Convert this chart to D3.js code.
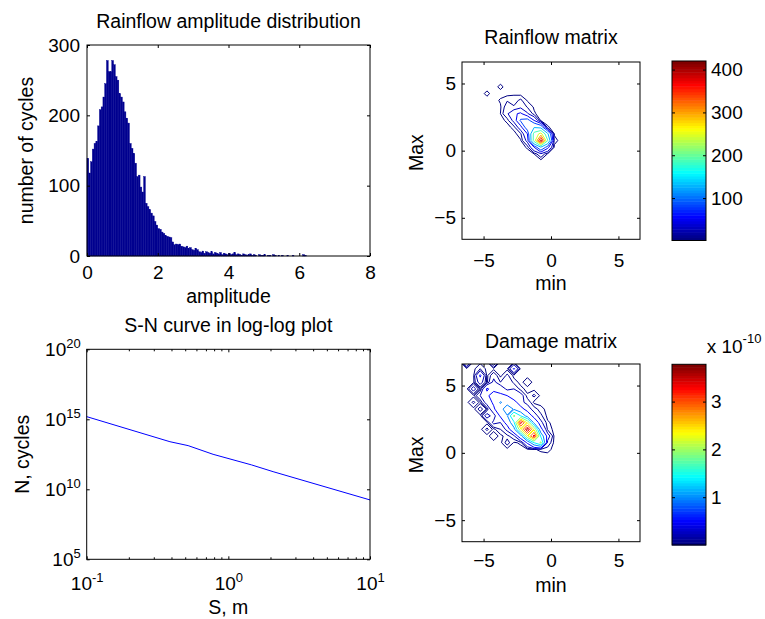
<!DOCTYPE html>
<html>
<head>
<meta charset="utf-8">
<title>Rainflow analysis</title>
<script src="https://cdn.jsdelivr.net/npm/d3@7/dist/d3.min.js"></script>
<style>
  body { margin: 0; background: #fff; }
  text { font-family: "Liberation Sans", Arial, Helvetica, sans-serif; fill: #000; }
</style>
</head>
<body>
<div id="fig"></div>
<script>
// four panels: amplitude histogram, rainflow matrix, S-N curve, damage matrix

var ampBinWidth = 0.05;
var ampCounts = [
  139, 118, 134, 152, 160, 163, 185, 208, 212, 226,
  245, 278, 262, 262, 278, 272, 255, 250, 231, 226,
  219, 205, 196, 189, 160, 153, 146, 132, 113, 115,
  98, 91, 113, 75, 70, 66, 61, 57, 49, 44,
  39, 38, 34, 32, 29, 28, 27, 26, 20, 16,
  17, 16, 17, 14, 13, 12, 14, 11, 12, 9,
  8, 11, 9, 6, 5, 7, 4, 6, 5, 4,
  6, 3, 5, 4, 3, 5, 2, 4, 3, 2,
  4, 2, 3, 5, 2, 3, 2, 1, 3, 2,
  1, 2, 3, 1, 2, 1, 0, 2, 1, 1,
  2, 0, 1, 1, 0, 2, 1, 0, 1, 0,
  1, 0, 0, 1, 0, 0, 1, 0, 0, 0,
  0, 0, 2, 1
];
var ampTicksX = [0, 2, 4, 6, 8];
var ampTicksY = [0, 100, 200, 300];

var snStress = [0.1, 0.387, 0.52, 0.78, 1.46, 2.07, 10];
var snCycles = [1.55e15, 2.51e13, 1.32e13, 3.16e12, 5.5e11, 1.82e11, 1.74e9];
var snTicksX = [0.1, 1, 10];
var snTicksY = [1e5, 1e10, 1e15, 1e20];

var matTicks = [-5, 0, 5];

// rainflow matrix (number of cycles), columns = min, rows = Max (top row first)
var rfMin = [-5.75, -5.25, -4.75, -4.25, -3.75, -3.25, -2.75, -2.25, -1.75, -1.25, -0.75, -0.25, 0.25, 0.75];
var rfMax = [5.25, 4.75, 4.25, 3.75, 3.25, 2.75, 2.25, 1.75, 1.25, 0.75, 0.25, -0.25, -0.75];
var rfCounts = [
  [0, 0, 0, 0, 0, 0, 0, 0, 0, 0, 0, 0, 0, 0],
  [0, 0, 0, 0, 5, 0, 0, 0, 0, 0, 0, 0, 0, 0],
  [0, 0, 5, 0, 0, 0, 2, 0, 0, 0, 0, 0, 0, 0],
  [0, 0, 0, 0, 4, 9, 6, 12, 2, 0, 0, 0, 0, 0],
  [0, 0, 0, 0, 2, 16, 11, 20, 9, 2, 0, 0, 0, 0],
  [0, 0, 0, 0, 3, 22, 45, 55, 28, 4, 0, 0, 0, 0],
  [0, 0, 0, 0, 0, 5, 32, 85, 95, 50, 0, 0, 0, 0],
  [0, 0, 0, 0, 0, 0, 6, 40, 105, 125, 110, 4, 0, 0],
  [0, 0, 0, 0, 0, 0, 0, 8, 50, 210, 270, 140, 2, 0],
  [0, 0, 0, 0, 0, 0, 0, 2, 32, 215, 420, 195, 6, 0],
  [0, 0, 0, 0, 0, 0, 0, 0, 4, 50, 125, 60, 1, 0],
  [0, 0, 0, 0, 0, 0, 0, 0, 0, 3, 20, 2, 0, 0],
  [0, 0, 0, 0, 0, 0, 0, 0, 0, 0, 0, 0, 0, 0]
];
var rfLevels = [3, 10, 25, 50, 80, 130, 190, 250, 300, 350, 400];
var rfColorRange = [1, 420];
var rfBarTicks = [100, 200, 300, 400];

// damage matrix in units of 1e-10
var dmMin = [-6.75, -6.25, -5.75, -5.25, -4.75, -4.25, -3.75, -3.25, -2.75, -2.25, -1.75, -1.25, -0.75, -0.25, 0.25, 0.75];
var dmMax = [6.75, 6.25, 5.75, 5.25, 4.75, 4.25, 3.75, 3.25, 2.75, 2.25, 1.75, 1.25, 0.75, 0.25, -0.25, -0.75];
var dmValues = [
  [0, 0.6, 0, 0, 0, 0.4, 0, 0, 0, 0, 0, 0, 0, 0, 0, 0],
  [0, 0, 0, 0.08, 0, 0, 0, 0, 0.5, 0, 0, 0, 0, 0, 0, 0],
  [0, 0, 0, 0.5, 0, 0.15, 0, 0.1, 0, 0, 0, 0, 0, 0, 0, 0],
  [0, 0, 0, 0.3, 0, 0.25, 0.08, 0.2, 0.05, 0, 0.06, 0, 0, 0, 0, 0],
  [0, 0, 0.3, 0, 0.5, 0.3, 0.35, 0.15, 0.2, 0.04, 0, 0, 0, 0, 0, 0],
  [0, 0, 0, 0.2, 0.35, 0.7, 0.5, 0.45, 0.2, 0.3, 0.03, 0.1, 0, 0, 0, 0],
  [0, 0, 0.1, 0, 0.3, 0.5, 1.0, 0.7, 0.6, 0.25, 0.15, 0, 0, 0, 0, 0],
  [0, 0, 0, 0.12, 0.01, 0.4, 0.7, 1.35, 0.9, 0.6, 0.3, 0.12, 0.04, 0, 0, 0],
  [0, 0, 0, 0, 0.3, 0.1, 0.5, 0.9, 2.0, 1.4, 0.75, 0.3, 0.1, 0, 0, 0],
  [0, 0, 0, 0, 0, 0.25, 0.2, 0.6, 1.3, 3.5, 2.3, 0.8, 0.25, 0.03, 0, 0],
  [0, 0, 0, 0, 0.1, 0, 0.08, 0.25, 0.8, 2.3, 3.78, 2.3, 0.55, 0.06, 0, 0],
  [0, 0, 0, 0, 0, 0.06, 0, 0.05, 0.15, 0.7, 2.3, 3.5, 1.3, 0.3, 0, 0],
  [0, 0, 0, 0, 0, 0, 0, 0.12, 0.01, 0.03, 0.5, 1.4, 2.0, 0.15, 0, 0],
  [0, 0, 0, 0, 0, 0, 0, 0, 0, 0, 0, 0.015, 0.03, 0.04, 0, 0],
  [0, 0, 0, 0, 0, 0, 0, 0, 0, 0, 0, 0, 0, 0, 0, 0],
  [0, 0, 0, 0, 0, 0, 0, 0, 0, 0, 0, 0, 0, 0, 0, 0]
];
var dmLevels = [0.02, 0.08, 0.2, 0.45, 0.95, 1.4, 1.9, 2.4, 2.85, 3.3, 3.6];
var dmColorRange = [0, 3.78];
var dmBarTicks = [1, 2, 3];

var TICK_FS = 19, LABEL_FS = 19.5, SUP_FS = 13;

var svg = d3.select('#fig').append('svg')
  .attr('width', 765)
  .attr('height', 619);

// matlab jet colormap, 64 steps
var jet = function(t) {
  t = Math.round(Math.max(0, Math.min(1, t)) * 63) / 63;
  var c = function(v) { return Math.max(0, Math.min(1, v)) * 255; };
  return d3.rgb(c(1.5 - Math.abs(4 * t - 3)), c(1.5 - Math.abs(4 * t - 2)), c(1.5 - Math.abs(4 * t - 1))).toString();
};

var styleAxis = function(g) {
  g.selectAll('.domain').remove();
  g.selectAll('.tick line').attr('stroke', '#000');
  g.selectAll('text').attr('font-size', TICK_FS).attr('font-family', null).attr('fill', '#000');
};

var powerLabel = function(sel, exp) {
  sel.text(null);
  sel.append('tspan').text('10');
  sel.append('tspan').attr('dy', -8).attr('font-size', SUP_FS).text(exp);
};

var logLabels = function(g) {
  g.selectAll('.tick text').each(function(d) {
    powerLabel(d3.select(this), String(Math.round(Math.log10(d))));
  });
};

// inward ticks on all four sides, box around; labels only bottom and left
var boxAxes = function(g, x, y, xt, yt, xpad, ypad, fmt) {
  var r = x.range(), d = y.range();
  var fm = fmt || d3.format('~g');
  var bottom = g.append('g').attr('transform', 'translate(0,' + d[0] + ')')
    .call(d3.axisBottom(x).tickValues(xt).tickSize(-3).tickSizeOuter(0).tickPadding(xpad).tickFormat(fm))
    .call(styleAxis);
  g.append('g').attr('transform', 'translate(0,' + d[1] + ')')
    .call(d3.axisTop(x).tickValues(xt).tickSize(-3).tickSizeOuter(0).tickFormat(''))
    .call(styleAxis);
  var left = g.append('g').attr('transform', 'translate(' + r[0] + ',0)')
    .call(d3.axisLeft(y).tickValues(yt).tickSize(-3).tickSizeOuter(0).tickPadding(ypad).tickFormat(fm))
    .call(styleAxis);
  g.append('g').attr('transform', 'translate(' + r[1] + ',0)')
    .call(d3.axisRight(y).tickValues(yt).tickSize(-3).tickSizeOuter(0).tickFormat(''))
    .call(styleAxis);
  g.append('rect')
    .attr('x', r[0]).attr('y', d[1])
    .attr('width', r[1] - r[0]).attr('height', d[0] - d[1])
    .attr('fill', 'none').attr('stroke', '#000').attr('stroke-width', 1);
  return {bottom: bottom, left: left};
};

var addText = function(x, y, str, size, rotate) {
  var t = svg.append('text')
    .attr('text-anchor', 'middle')
    .attr('font-size', size)
    .text(str);
  if (rotate) {
    t.attr('transform', 'translate(' + x + ',' + y + ') rotate(-90)');
  } else {
    t.attr('x', x).attr('y', y);
  }
  return t;
};

// ---------- amplitude histogram ----------
var xHist = d3.scaleLinear().domain([0, 8]).range([87, 370]);
var yHist = d3.scaleLinear().domain([0, 300]).range([256, 45]);
var gHist = svg.append('g');

gHist.selectAll('rect.bar')
  .data(ampCounts)
  .enter().append('rect')
  .attr('class', 'bar')
  .attr('x', function(d, i) { return xHist(i * ampBinWidth); })
  .attr('width', xHist(ampBinWidth) - xHist(0))
  .attr('y', function(d) { return yHist(d); })
  .attr('height', function(d) { return yHist(0) - yHist(d); })
  .attr('fill', '#00008f')
  .attr('stroke', '#00008f')
  .attr('stroke-width', 0.4);

boxAxes(gHist, xHist, yHist, ampTicksX, ampTicksY, 9.5, 7);
addText(228.5, 28.3, 'Rainflow amplitude distribution', LABEL_FS);
addText(228.5, 302.7, 'amplitude', LABEL_FS);
addText(32.5, 150.5, 'number of cycles', LABEL_FS, true);

// ---------- S-N curve ----------
var xSN = d3.scaleLog().domain([0.1, 10]).range([86.7, 370]);
var ySN = d3.scaleLog().domain([1e5, 1e20]).range([559.3, 349.3]);
var gSN = svg.append('g');

var snLine = d3.line()
  .x(function(d) { return xSN(d[0]); })
  .y(function(d) { return ySN(d[1]); });
gSN.append('path')
  .datum(d3.zip(snStress, snCycles))
  .attr('d', snLine)
  .attr('fill', 'none')
  .attr('stroke', '#0000ff')
  .attr('stroke-width', 1);

var snMinor = xSN.ticks().filter(function(v) { return snTicksX.indexOf(v) < 0; });
gSN.selectAll('line.minor-b')
  .data(snMinor)
  .enter().append('line')
  .attr('x1', function(d) { return xSN(d); })
  .attr('x2', function(d) { return xSN(d); })
  .attr('y1', ySN.range()[0]).attr('y2', ySN.range()[0] - 2)
  .attr('stroke', '#000');
gSN.selectAll('line.minor-t')
  .data(snMinor)
  .enter().append('line')
  .attr('x1', function(d) { return xSN(d); })
  .attr('x2', function(d) { return xSN(d); })
  .attr('y1', ySN.range()[1]).attr('y2', ySN.range()[1] + 2)
  .attr('stroke', '#000');

var snAxes = boxAxes(gSN, xSN, ySN, snTicksX, snTicksY, 17, 6, function(d) { return d; });
logLabels(snAxes.bottom);
logLabels(snAxes.left);
addText(228.3, 331.5, 'S-N curve in log-log plot', LABEL_FS);
addText(228.3, 614, 'S, m', LABEL_FS);
addText(29, 454.3, 'N, cycles', LABEL_FS, true);

// ---------- contour matrices ----------
var matrixPanel = function(opt) {
  var x = d3.scaleLinear().domain([-6.6, 6.6]).range([462, 640]);
  var y = d3.scaleLinear().domain([-6.6, 6.6]).range([opt.bottom, opt.top]);
  var g = svg.append('g');
  var nx = opt.cols.length, ny = opt.rows.length;
  var step = opt.cols[1] - opt.cols[0];
  var flat = [].concat.apply([], opt.grid);

  var toPlot = d3.geoTransform({
    point: function(px, py) {
      this.stream.point(x(opt.cols[0] + (px - 0.5) * step), y(opt.rows[0] - (py - 0.5) * step));
    }
  });
  var path = d3.geoPath(toPlot);
  var contours = d3.contours().size([nx, ny]).thresholds(opt.levels)(flat);

  g.append('clipPath').attr('id', opt.id + '-clip')
    .append('rect')
    .attr('x', 462).attr('y', opt.top)
    .attr('width', 178).attr('height', opt.bottom - opt.top);

  var cscale = d3.scaleLinear().domain(opt.crange).range([0, 1]);
  g.append('g').attr('clip-path', 'url(#' + opt.id + '-clip)')
    .selectAll('path')
    .data(contours)
    .enter().append('path')
    .attr('d', path)
    .attr('fill', 'none')
    .attr('stroke', function(d) { return jet(cscale(d.value)); })
    .attr('stroke-width', 1);

  boxAxes(g, x, y, matTicks, matTicks, opt.xpad, 6);
  addText(551, opt.top - opt.titleGap, opt.title, LABEL_FS);
  addText(551, opt.minLabelY, 'min', LABEL_FS);
  addText(423, (opt.top + opt.bottom) / 2 + 2, 'Max', LABEL_FS, true);

  // colorbar
  var yc = d3.scaleLinear().domain(opt.crange).range([opt.cbBottom, opt.cbTop]);
  var dstep = (opt.crange[1] - opt.crange[0]) / 64;
  var steps = d3.range(64).map(function(k) { return opt.crange[0] + k * dstep; });
  var gc = svg.append('g');
  gc.selectAll('rect.cb')
    .data(steps)
    .enter().append('rect')
    .attr('x', 672)
    .attr('width', 34)
    .attr('y', function(d) { return yc(d + dstep); })
    .attr('height', function(d) { return yc(d) - yc(d + dstep) + 0.5; })
    .attr('fill', function(d) { return jet(cscale(d + dstep / 2)); });
  gc.append('g').attr('transform', 'translate(706,0)')
    .call(d3.axisRight(yc).tickValues(opt.barTicks).tickSize(-3).tickSizeOuter(0).tickPadding(5).tickFormat(d3.format('~g')))
    .call(styleAxis);
  gc.append('g').attr('transform', 'translate(672,0)')
    .call(d3.axisLeft(yc).tickValues(opt.barTicks).tickSize(-3).tickSizeOuter(0).tickFormat(''))
    .call(styleAxis);
  gc.append('rect')
    .attr('x', 672).attr('y', opt.cbTop)
    .attr('width', 34).attr('height', opt.cbBottom - opt.cbTop)
    .attr('fill', 'none').attr('stroke', '#000');
  return gc;
};

matrixPanel({
  id: 'rf', title: 'Rainflow matrix',
  cols: rfMin, rows: rfMax, grid: rfCounts, levels: rfLevels,
  crange: rfColorRange, barTicks: rfBarTicks,
  top: 62, bottom: 239.3, titleGap: 17.7, minLabelY: 290, xpad: 14,
  cbTop: 61, cbBottom: 240.5
});

matrixPanel({
  id: 'dm', title: 'Damage matrix',
  cols: dmMin, rows: dmMax, grid: dmValues, levels: dmLevels,
  crange: dmColorRange, barTicks: dmBarTicks,
  top: 364, bottom: 541.7, titleGap: 15.7, minLabelY: 591.7, xpad: 12,
  cbTop: 364.3, cbBottom: 545
});

var scaleNote = svg.append('text')
  .attr('x', 706.7).attr('y', 353.3)
  .attr('font-size', TICK_FS);
scaleNote.append('tspan').text('x 10');
scaleNote.append('tspan').attr('dy', -10).attr('font-size', SUP_FS).text('-10');
</script>
</body>
</html>
